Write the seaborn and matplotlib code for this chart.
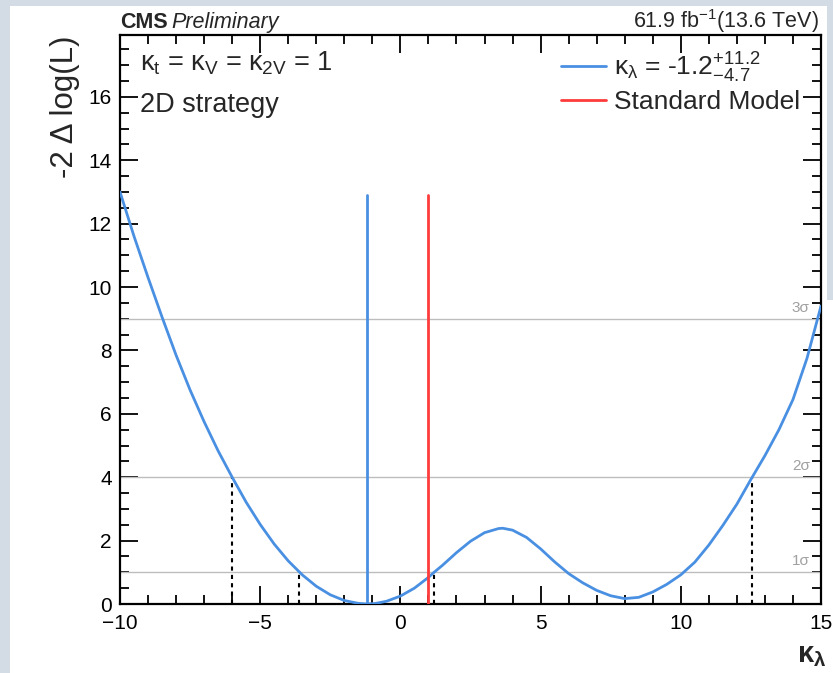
import numpy as np
import pandas as pd
import matplotlib
matplotlib.use("Agg")
import matplotlib.pyplot as plt
import seaborn as sns
from matplotlib.ticker import MultipleLocator
from matplotlib.patches import Rectangle

# ---- data ----
kl = [-10.0, -9.5, -9.0, -8.5, -8.0, -7.5, -7.0, -6.5, -6.0, -5.5, -5.0, -4.5, -4.0,
      -3.5, -3.0, -2.5, -2.0, -1.5, -1.2, -0.9, -0.5, 0.0, 0.5, 1.0, 1.2, 1.5, 2.0,
      2.5, 3.0, 3.5, 3.65, 4.0, 4.5, 5.0, 5.5, 6.0, 6.5, 7.0, 7.5, 8.0, 8.5, 9.0,
      9.5, 10.0, 10.5, 11.0, 11.5, 12.0, 12.5, 13.0, 13.5, 14.0, 14.5, 15.0]
dnll = [13.0, 11.6, 10.3, 9.05, 7.85, 6.75, 5.75, 4.83, 4.0, 3.21, 2.51, 1.89, 1.36,
        0.92, 0.56, 0.29, 0.11, 0.02, 0.0, 0.016, 0.085, 0.25, 0.5, 0.84, 1.0, 1.22, 1.62,
        1.98, 2.25, 2.38, 2.39, 2.33, 2.1, 1.74, 1.33, 0.96, 0.67, 0.43, 0.26, 0.17, 0.21,
        0.38, 0.62, 0.92, 1.32, 1.86, 2.48, 3.15, 3.93, 4.68, 5.5, 6.45, 7.75, 9.4]
best_fit = -1.2
sm_value = 1.0
vline_top = 12.9
sigma_levels = [1, 4, 9]
sigma_labels = ["1σ", "2σ", "3σ"]
crossings_x = [-6.0, -3.6, 1.2, 12.54]
crossings_y = [4, 1, 1, 4]

BLUE = "#4a90e2"
RED = "#ff3b3b"
GRAY = "#bdbdbd"
BG = "#d3dce4"

sns.set_style("ticks")
plt.rcParams["font.family"] = ["Liberation Sans", "DejaVu Sans"]
plt.rcParams["mathtext.fontset"] = "custom"
plt.rcParams["mathtext.rm"] = "Liberation Sans"
plt.rcParams["mathtext.it"] = "Liberation Sans"
plt.rcParams["mathtext.bf"] = "Liberation Sans:bold"

fig = plt.figure(figsize=(8.33, 6.73), dpi=100)
fig.patch.set_facecolor(BG)
fig.patches.append(Rectangle((10 / 833, 0), (833 - 10) / 833, 1 - 6 / 673,
                             transform=fig.transFigure, facecolor="white",
                             edgecolor="none", zorder=-10))
fig.patches.append(Rectangle((827 / 833, 1 - 300 / 673), 6 / 833, 300 / 673,
                             transform=fig.transFigure, facecolor=BG,
                             edgecolor="none", zorder=-9))

ax = fig.add_axes([120 / 833, 1 - 604 / 673, 701 / 833, (604 - 35) / 673])
ax.set_facecolor("white")

df = pd.DataFrame({"kl": kl, "dnll": dnll})

# sigma lines
for lvl, lab in zip(sigma_levels, sigma_labels):
    ax.axhline(lvl, color=GRAY, lw=1.0, zorder=1)
    ax.text(14.6, lvl + 0.12, lab, color="#a0a0a0", fontsize=11, ha="right",
            va="bottom", zorder=2)

# dashed crossings
for cx, cy in zip(crossings_x, crossings_y):
    ax.plot([cx, cx], [0, cy], color="black", ls=(0, (2, 2)), lw=1.5, zorder=3)

sns.lineplot(data=df, x="kl", y="dnll", ax=ax, color=BLUE, lw=2, zorder=4,
             label=r"$\kappa_{\lambda}$ = -1.2$^{+11.2}_{-4.7}$")
ax.plot([best_fit, best_fit], [0, vline_top], color=BLUE, lw=2, zorder=4)
ax.plot([sm_value, sm_value], [0, vline_top], color=RED, lw=2, zorder=4,
        label="Standard Model")

ax.set_xlim(-10, 15)
ax.set_ylim(0, 17.95)
ax.xaxis.set_major_locator(MultipleLocator(5))
ax.xaxis.set_minor_locator(MultipleLocator(1))
ax.yaxis.set_major_locator(MultipleLocator(2))
ax.yaxis.set_minor_locator(MultipleLocator(0.5))
ax.tick_params(which="both", direction="in", top=True, right=True, width=1.3,
               labelsize=15, colors="black")
ax.tick_params(which="major", length=13)
ax.tick_params(which="minor", length=6.5)
ax.tick_params(axis="x", pad=7)
ax.tick_params(axis="y", pad=6)
for s in ax.spines.values():
    s.set_linewidth(1.6)
    s.set_color("black")

ax.set_xlabel("")
ax.set_ylabel("")
fig.text(65 / 833, 1 - 35 / 673, "-2 Δ log(L)", rotation=90, ha="center", va="top",
         fontsize=22.5)
fig.text(812 / 833, 1 - 655 / 673, r"$\mathbf{\kappa_{\lambda}}$", ha="center",
         va="center", fontsize=21)

# header
fig.text(120 / 833, 1 - 28 / 673, "CMS", fontsize=15.5, fontweight="bold",
         ha="left", va="baseline")
fig.text(171 / 833, 1 - 28 / 673, "Preliminary", fontsize=15.5, style="italic",
         ha="left", va="baseline")
fig.text(819 / 833, 1 - 28 / 673, r"61.9 fb$^{-1}$(13.6 TeV)", fontsize=15.5,
         ha="right", va="baseline")

ax.text(-9.29, 17.05, r"$\kappa_{\mathrm{t}}$ = $\kappa_{\mathrm{V}}$ = $\kappa_{\mathrm{2V}}$ = 1",
        fontsize=19.5, ha="left", va="center")
ax.text(-9.29, 15.75, "2D strategy", fontsize=19.5, ha="left", va="center")

leg = ax.legend(loc="upper right", bbox_to_anchor=(0.970, 0.973), frameon=False,
                fontsize=19, handlelength=1.7, handletextpad=0.3,
                labelspacing=0.2, borderaxespad=0.0, borderpad=0.0)

fig.savefig("out.png", dpi=100, facecolor=fig.get_facecolor())
